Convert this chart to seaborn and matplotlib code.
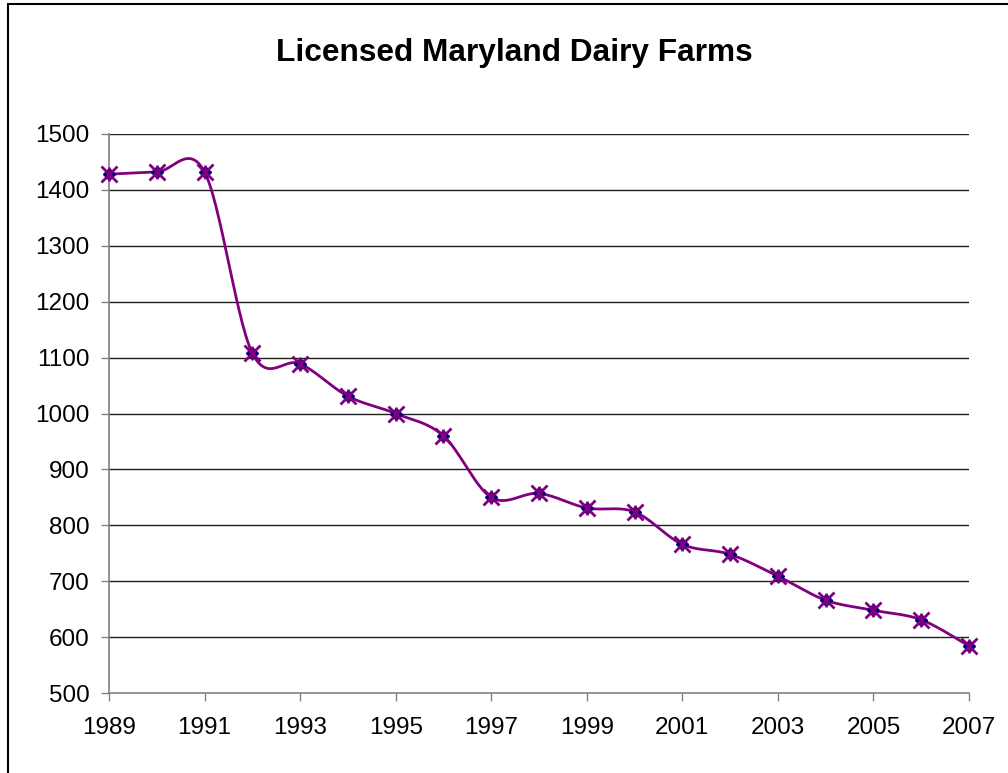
import numpy as np
import pandas as pd
import matplotlib
matplotlib.use("Agg")
import matplotlib.pyplot as plt
import seaborn as sns
from matplotlib.patches import Rectangle

years = [1989, 1990, 1991, 1992, 1993, 1994, 1995, 1996, 1997, 1998,
         1999, 2000, 2001, 2002, 2003, 2004, 2005, 2006, 2007]
farms = [1428, 1432, 1432, 1108, 1089, 1031, 1000, 960, 850, 857,
         831, 824, 766, 748, 709, 666, 648, 631, 584]
title = "Licensed Maryland Dairy Farms"
yticks = [500, 600, 700, 800, 900, 1000, 1100, 1200, 1300, 1400, 1500]
xticks = [1989, 1991, 1993, 1995, 1997, 1999, 2001, 2003, 2005, 2007]

sns.set_style("white")
plt.rcParams['font.family'] = ['Liberation Sans', 'DejaVu Sans']
plt.rcParams['text.color'] = 'black'
plt.rcParams['xtick.color'] = 'black'
plt.rcParams['ytick.color'] = 'black'

df = pd.DataFrame({"year": years, "farms": farms})


def smooth(xs, ys, n=30):
    # Excel-style smoothed line: Bezier with Catmull-Rom control points
    xs = np.asarray(xs, float)
    ys = np.asarray(ys, float)
    px = np.concatenate([[xs[0]], xs, [xs[-1]]])
    py = np.concatenate([[ys[0]], ys, [ys[-1]]])
    ox, oy = [], []
    t = np.linspace(0, 1, n)
    for i in range(1, len(px) - 2):
        p0 = np.array([px[i], py[i]])
        p3 = np.array([px[i + 1], py[i + 1]])
        c1 = p0 + (np.array([px[i + 1], py[i + 1]]) - np.array([px[i - 1], py[i - 1]])) / 6
        c2 = p3 - (np.array([px[i + 2], py[i + 2]]) - np.array([px[i], py[i]])) / 6
        b = ((1 - t) ** 3)[:, None] * p0 + (3 * (1 - t) ** 2 * t)[:, None] * c1 \
            + (3 * (1 - t) * t ** 2)[:, None] * c2 + (t ** 3)[:, None] * p3
        ox.extend(b[:, 0])
        oy.extend(b[:, 1])
    return np.array(ox), np.array(oy)


fig = plt.figure(figsize=(10.08, 7.73), dpi=100)
ax = fig.add_axes([109 / 1008, 1 - 693 / 773, 860 / 1008, 559 / 773])

sx, sy = smooth(df["year"], df["farms"])
sns.lineplot(x=sx, y=sy, ax=ax, color="#800080", linewidth=2.0, sort=False,
             estimator=None, zorder=3)
ax.plot(df["year"], df["farms"], linestyle="none", marker="D", markersize=6.5,
        color="#000080", zorder=4, clip_on=False)
ax.plot(df["year"], df["farms"], linestyle="none", marker="x", markersize=11,
        markeredgewidth=2.0, color="#800080", zorder=5, clip_on=False)
ax.plot(df["year"], df["farms"], linestyle="none", marker="|", markersize=10,
        markeredgewidth=1.8, color="#800080", zorder=5, clip_on=False)

ax.set_xlim(1989, 2007)
ax.set_ylim(500, 1500)
ax.set_xticks(xticks)
ax.set_yticks(yticks)
ax.set_xticklabels([str(v) for v in xticks], fontsize=17.5)
ax.set_yticklabels([str(v) for v in yticks], fontsize=17.5)
ax.set_xlabel("")
ax.set_ylabel("")
for v in yticks[1:]:
    ax.axhline(v, color="#202020", linewidth=1.0, zorder=1)
ax.tick_params(axis="both", direction="out", length=6, width=1.0,
               color="#808080", bottom=True, left=True, labelcolor="black")
ax.tick_params(axis="x", pad=11)
ax.tick_params(axis="y", pad=8)
for side in ("top", "right"):
    ax.spines[side].set_visible(False)
for side in ("left", "bottom"):
    ax.spines[side].set_color("#808080")
    ax.spines[side].set_linewidth(1.2)

fig.text(514 / 1008, 1 - 61 / 773, title, ha="center", va="baseline",
         fontsize=22.8, fontweight="bold", color="black")

fig.patches.append(Rectangle((8 / 1008, -0.1), 1.2, 1 - 4 / 773 + 0.1,
                             transform=fig.transFigure, fill=False,
                             edgecolor="black", linewidth=1.5))

fig.savefig("out.png", dpi=100)
